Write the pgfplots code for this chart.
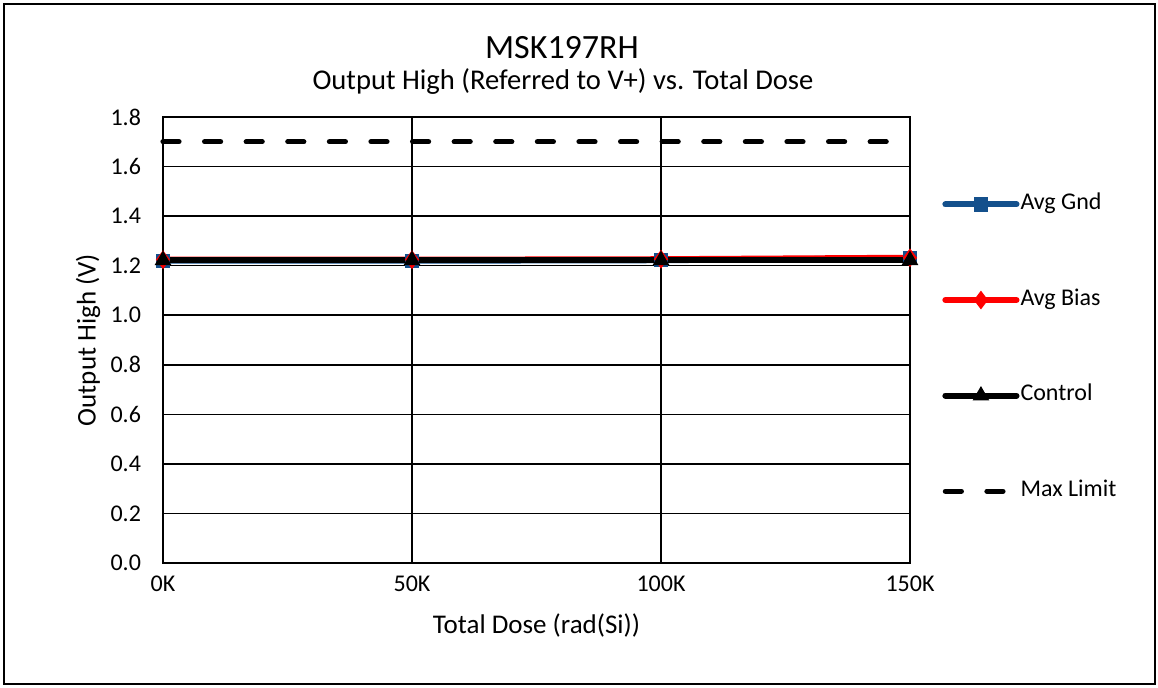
\documentclass[border=0pt]{standalone}
\usepackage{pgfplots}
\pgfplotsset{compat=1.18}
\usepackage{fontspec}
\setmainfont{Carlito}
\definecolor{gndblue}{RGB}{20,80,140}

\begin{document}
\begin{tikzpicture}
% picture frame: 1px = 0.5pt, origin at the axis' lower left corner
\path[use as bounding box] (-81.5pt,-62pt) rectangle (497.5pt,281.5pt);
\draw[line width=1pt] (-79.5pt,-60.5pt) rectangle (496pt,279.5pt);
\node[font=\fontsize{17}{20}\selectfont] at (199.5pt,257.5pt) {MSK197RH};
\node[font=\fontsize{14.3}{17}\selectfont] at (200pt,240.5pt) {Output High (Referred to V+) vs. Total Dose};
\begin{axis}[
    at={(0,0)}, anchor=south west,
    scale only axis,
    width=373.5pt, height=223pt,
    xmin=0, xmax=150000,
    ymin=0, ymax=1.8,
    xtick={0,50000,100000,150000},
    xticklabels={0K,50K,100K,150K},
    scaled x ticks=false,
    ytick={0,0.2,...,1.8},
    yticklabel={\pgfmathprintnumber[fixed,fixed zerofill,precision=1]{\tick}},
    /pgf/number format/assume math mode=true,
    major tick length=0pt,
    tick label style={font=\fontsize{12}{14}\selectfont},
    yticklabel style={xshift=-7.5pt},
    xticklabel style={yshift=-3pt},
    grid=major,
    major grid style={black, line width=0.75pt},
    axis line style={black, line width=0.75pt},
    every axis y label/.style={at={(rel axis cs:0,0.5)}, xshift=-37.5pt, rotate=90, anchor=center},
    every axis x label/.style={at={(rel axis cs:0.5,0)}, anchor=center, yshift=-31pt},
    label style={font=\fontsize{13.5}{16}\selectfont},
    xlabel={Total Dose (rad(Si))},
    ylabel={Output High (V)},
    legend image code/.code={\draw[mark repeat=2,mark phase=2,#1] plot coordinates {(0cm,0cm) (0.625cm,0cm) (1.25cm,0cm)};},
    legend style={draw=none, fill=none, at={(rel axis cs:1.0428,0.8318)}, anchor=north west,
        inner sep=0pt, row sep=35.8pt, column sep=0.5pt,
        font=\fontsize{12}{14}\selectfont,
        nodes={inner sep=0pt, text height=8.5pt, text depth=3.5pt, anchor=west}},
    legend cell align=left,
    clip=false,
]
\addplot[gndblue, line width=3pt, line cap=round, mark=square*, mark size=3.3pt, mark options={solid, line width=0.6pt}]
    coordinates {(0,1.220) (50000,1.220) (100000,1.222) (150000,1.230)};
\addlegendentry{Avg Gnd}
\addplot[red, line width=3pt, line cap=round, mark=diamond*, mark size=4.2pt, mark options={solid, line width=0.6pt}]
    coordinates {(0,1.224) (50000,1.224) (100000,1.226) (150000,1.232)};
\addlegendentry{Avg Bias}
\addplot[black, line width=3pt, line cap=round, mark=triangle*, mark size=4.2pt, mark options={solid, line width=0.6pt}]
    coordinates {(0,1.222) (50000,1.222) (100000,1.222) (150000,1.222)};
\addlegendentry{Control}
\addplot[black, line width=2.6pt, line cap=round, dash pattern=on 8pt off 12.8pt]
    coordinates {(0,1.7) (50000,1.7) (100000,1.7) (150000,1.7)};
\addlegendentry{Max Limit}
\end{axis}
\end{tikzpicture}
\end{document}
